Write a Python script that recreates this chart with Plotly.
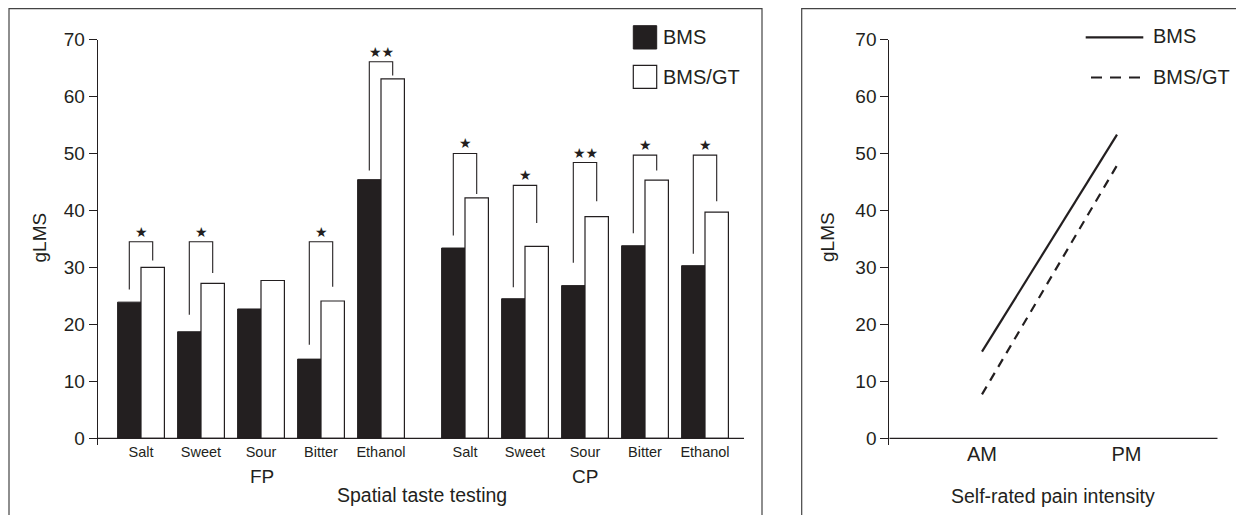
import plotly.graph_objects as go

# ---------------- data ----------------
tastes = ["Salt", "Sweet", "Sour", "Bitter", "Ethanol"]
regions = ["FP", "CP"]
bms_fp = [23.9, 18.7, 22.7, 13.9, 45.4]
bmsgt_fp = [30.0, 27.2, 27.7, 24.1, 63.1]
bms_cp = [33.4, 24.5, 26.8, 33.8, 30.3]
bmsgt_cp = [42.2, 33.7, 38.9, 45.3, 39.7]

# significance brackets (label, top, left foot, right foot) in gLMS units
sig_fp = ["*", "*", "", "*", "**"]
br_top_fp = [34.5, 34.5, None, 34.5, 66.1]
br_left_fp = [26.1, 21.7, None, 16.4, 47.0]
br_right_fp = [31.2, 29.0, None, 26.6, 63.7]
sig_cp = ["*", "*", "**", "*", "*"]
br_top_cp = [50.0, 44.4, 48.4, 49.7, 49.7]
br_left_cp = [35.6, 26.5, 30.8, 36.0, 32.4]
br_right_cp = [42.9, 37.8, 41.6, 47.0, 41.6]

times = ["AM", "PM"]
pain_bms = [15.2, 53.3]
pain_bmsgt = [7.7, 47.9]

y_ticks = [0, 10, 20, 30, 40, 50, 60, 70]

# ---------------- layout helpers ----------------
# the page body has an 8px margin, so the figure is placed at (8, 8)
OFF = 8
W, H = 1244 - OFF, 515 - OFF
INK = "#231f20"
FONT = "Liberation Sans, Arial, sans-serif"


def px(x):
    return (x - OFF) / W


def py(y):
    return 1 - (y - OFF) / H


group_gap = 0.4
pos_fp = [i for i in range(len(tastes))]
pos_cp = [len(tastes) + group_gap + i for i in range(len(tastes))]
positions = pos_fp + pos_cp
bar_w = 0.39

fig = go.Figure()

fig.add_trace(go.Bar(
    x=positions, y=bms_fp + bms_cp, width=bar_w, offset=-bar_w,
    marker=dict(color=INK, line=dict(color=INK, width=1)),
    name="BMS", showlegend=False, xaxis="x", yaxis="y"))
fig.add_trace(go.Bar(
    x=positions, y=bmsgt_fp + bmsgt_cp, width=bar_w, offset=0,
    marker=dict(color="white", line=dict(color=INK, width=1.2)),
    name="BMS/GT", showlegend=False, xaxis="x", yaxis="y"))

annotations = []
sigs = sig_fp + sig_cp
tops = br_top_fp + br_top_cp
lefts = br_left_fp + br_left_cp
rights = br_right_fp + br_right_cp
for p, s, t, l, r in zip(positions, sigs, tops, lefts, rights):
    if not s:
        continue
    xl, xr = p - bar_w / 2, p + bar_w / 2
    fig.add_trace(go.Scatter(
        x=[xl, xl, xr, xr], y=[l, t, t, r], mode="lines",
        line=dict(color=INK, width=1.1), showlegend=False, hoverinfo="skip",
        xaxis="x", yaxis="y"))
    annotations.append(dict(
        x=p, y=t, xref="x", yref="y", yshift=10, showarrow=False,
        text="★" * len(s), yanchor="middle",
        font=dict(family="DejaVu Sans", size=14, color=INK)))

fig.add_trace(go.Scatter(
    x=[0, 1], y=pain_bms, mode="lines", line=dict(color=INK, width=2.2),
    showlegend=False, xaxis="x2", yaxis="y2"))
fig.add_trace(go.Scatter(
    x=[0, 1], y=pain_bmsgt, mode="lines",
    line=dict(color=INK, width=2.2, dash="9px,7px"),
    showlegend=False, xaxis="x2", yaxis="y2"))

# axes geometry (page pixels)
y_top_px, y0_px = 39.5, 438.3
scale = (y0_px - y_top_px) / 70.0
y_bottom_px = y0_px + 7.1
y_min = -(y_bottom_px - y0_px) / scale
ydom = [py(y_bottom_px), py(y_top_px)]

L_left, L_right = 97.7, 744.0
slot_px, slot0_px = 60.0, 141.0
x1_range = [(L_left - slot0_px) / slot_px, (L_right - slot0_px) / slot_px]

R_left, R_right = 889.3, 1217.7
am_px, pm_px = 982.0, 1117.0
unit2 = pm_px - am_px
x2_range = [(R_left - am_px) / unit2, (R_right - am_px) / unit2]

yaxis_common = dict(
    range=[y_min, 70], tickvals=y_ticks, showline=True, linecolor=INK,
    linewidth=1, ticks="outside", ticklen=8, tickcolor=INK, tickwidth=1,
    showgrid=False, zeroline=False, automargin=False,
    tickfont=dict(family=FONT, size=19, color=INK))

fig.update_layout(
    width=W, height=H, margin=dict(l=0, r=0, t=0, b=0, pad=0, autoexpand=False),
    paper_bgcolor="white", plot_bgcolor="white", showlegend=False,
    barmode="overlay",
    xaxis=dict(domain=[px(L_left), px(L_right)], range=x1_range,
               tickvals=positions, ticktext=tastes + tastes, automargin=False,
               showline=False, ticks="", showgrid=False, zeroline=False,
               ticklabelstandoff=-4,
               tickfont=dict(family=FONT, size=14.5, color=INK)),
    yaxis=dict(domain=ydom, anchor="x", **yaxis_common),
    xaxis2=dict(domain=[px(R_left), px(R_right)], range=x2_range,
                tickvals=[0, 1.07], ticktext=times, anchor="y2", automargin=False,
                showline=False, ticks="", showgrid=False, zeroline=False,
                ticklabelstandoff=-5,
                tickfont=dict(family=FONT, size=20, color=INK)),
    yaxis2=dict(domain=ydom, anchor="x2", **yaxis_common),
)

shapes = []
shapes.append(dict(type="line", xref="x", yref="y", x0=x1_range[0], x1=x1_range[1],
                   y0=0, y1=0, line=dict(color=INK, width=1.2)))
shapes.append(dict(type="line", xref="x2", yref="y2", x0=x2_range[0], x1=x2_range[1],
                   y0=0, y1=0, line=dict(color=INK, width=1.2)))
shapes.append(dict(type="rect", xref="paper", yref="paper", x0=px(9), x1=px(762),
                   y0=py(530), y1=py(8.7), line=dict(color="#444", width=1.2)))
shapes.append(dict(type="rect", xref="paper", yref="paper", x0=px(801.7), x1=px(1260),
                   y0=py(530), y1=py(8.7), line=dict(color="#444", width=1.2)))
shapes.append(dict(type="rect", xref="paper", yref="paper", x0=px(633.3), x1=px(656.7),
                   y0=py(49), y1=py(25.7), fillcolor=INK, line=dict(color=INK, width=1)))
shapes.append(dict(type="rect", xref="paper", yref="paper", x0=px(633.3), x1=px(656.7),
                   y0=py(88.3), y1=py(65.3), fillcolor="white", line=dict(color=INK, width=1.2)))
shapes.append(dict(type="line", xref="paper", yref="paper", x0=px(1085.7), x1=px(1143.3),
                   y0=py(37.3), y1=py(37.3), line=dict(color=INK, width=2.2)))
shapes.append(dict(type="line", xref="paper", yref="paper", x0=px(1091), x1=px(1141.7),
                   y0=py(77.5), y1=py(77.5), line=dict(color=INK, width=2.2, dash="11px,8px")))


def label(text, x, y, size, angle=0, xanchor="center"):
    annotations.append(dict(
        text=text, x=px(x), y=py(y), xref="paper", yref="paper", showarrow=False,
        xanchor=xanchor, yanchor="middle", textangle=angle,
        font=dict(family=FONT, size=size, color=INK)))


label("BMS", 661, 36.7, 20, xanchor="left")
label("BMS/GT", 661, 76.7, 20, xanchor="left")
label("BMS", 1151, 36, 20, xanchor="left")
label("BMS/GT", 1151, 77, 20, xanchor="left")
label("gLMS", 39, 237.5, 19, angle=-90)
label("gLMS", 827.5, 237.5, 19, angle=-90)
label(regions[0], 261.7, 476.7, 19)
label(regions[1], 585, 476.7, 19)
label("Spatial taste testing", 422, 495, 19.5)
label("Self-rated pain intensity", 1053, 496, 19.5)

fig.update_layout(shapes=shapes, annotations=annotations)

fig.write_html("out.html", config={"displayModeBar": False})
